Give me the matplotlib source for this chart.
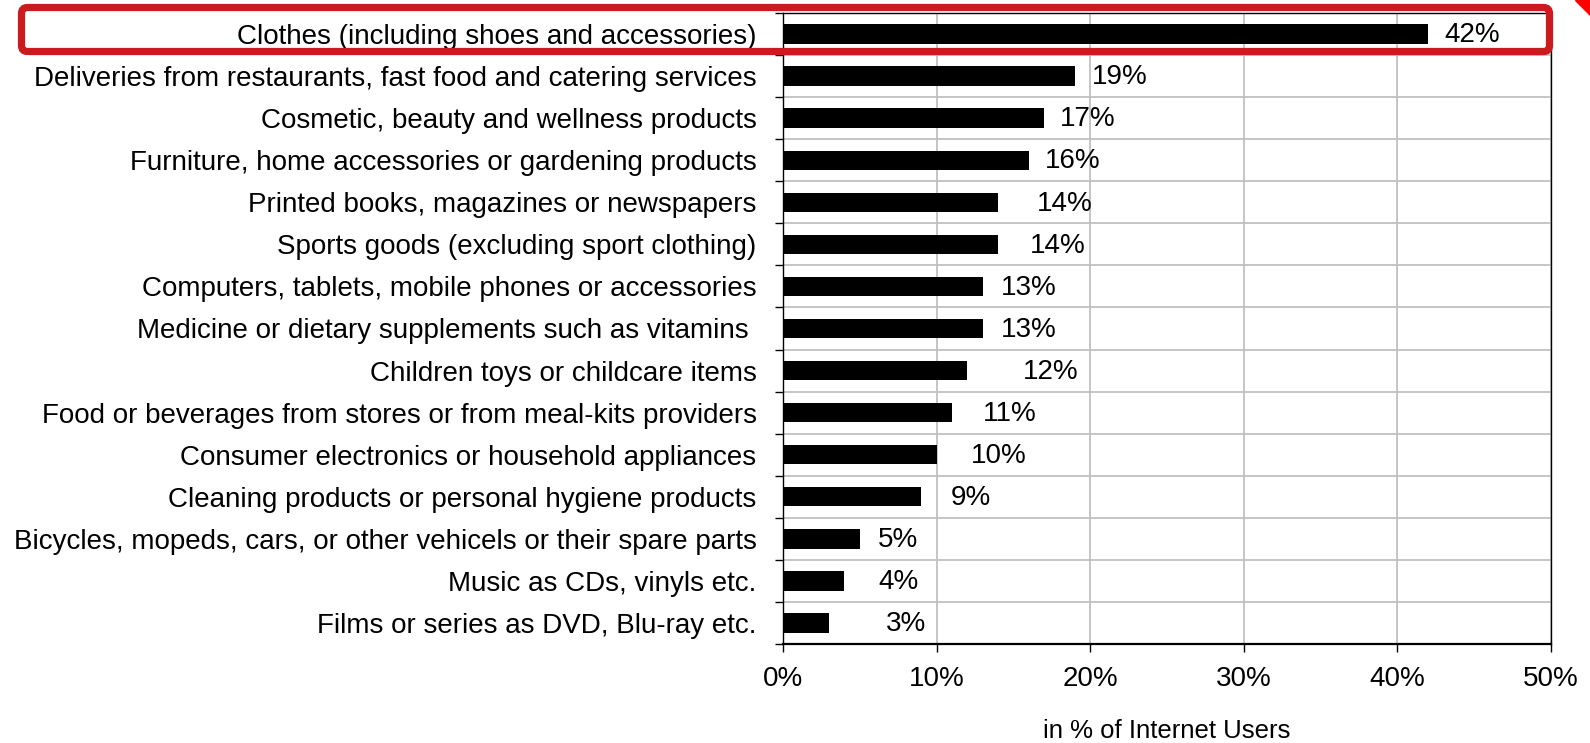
import matplotlib
matplotlib.use("Agg")
import matplotlib.pyplot as plt
from matplotlib.patches import FancyBboxPatch, Polygon
import numpy as np

plt.rcParams["font.family"] = ["Liberation Sans", "DejaVu Sans"]

# ========================
#  Datos
# ========================
categories = [
    "Clothes (including shoes and accessories)",
    "Deliveries from restaurants, fast food and catering services",
    "Cosmetic, beauty and wellness products",
    "Furniture, home accessories or gardening products",
    "Printed books, magazines or newspapers",
    "Sports goods (excluding sport clothing)",
    "Computers, tablets, mobile phones or accessories",
    "Medicine or dietary supplements such as vitamins ",
    "Children toys or childcare items",
    "Food or beverages from stores or from meal-kits providers",
    "Consumer electronics or household appliances",
    "Cleaning products or personal hygiene products",
    "Bicycles, mopeds, cars, or other vehicels or their spare parts",
    "Music as CDs, vinyls etc.",
    "Films or series as DVD, Blu-ray etc.",
]
values = [42, 19, 17, 16, 14, 14, 13, 13, 12, 11, 10, 9, 5, 4, 3]
# the data labels sit at uneven distances from the bars in the original
label_gap = [1.05, 1.1, 1.05, 1.05, 2.5, 2.1, 1.2, 1.2, 3.6, 2.0, 2.2, 1.9, 1.2, 2.2, 3.7]
x_ticks = [0, 10, 20, 30, 40, 50]
x_title = "in % of Internet Users"

# ========================
#  Gráfico
# ========================
W, H = 1590, 743
fig = plt.figure(figsize=(W / 100, H / 100), dpi=100)
ax = fig.add_axes([783 / W, 1 - 644 / H, (1551 - 783) / W, (644 - 13) / H])

y = np.arange(len(categories))
ax.barh(y, values, height=0.46, color="black", zorder=3)

for yi, v, g in zip(y, values, label_gap):
    ax.text(v + g, yi + 0.03, f"{v}%", va="center", ha="left", fontsize=20, zorder=4)

ax.set_xlim(0, 50)
ax.set_ylim(len(categories) - 0.5, -0.5)

ax.set_xticks(x_ticks)
ax.set_xticklabels([f"{t}%" for t in x_ticks], fontsize=20)
ax.set_yticks(y)
ax.set_yticklabels(categories, fontsize=20)
ax.set_yticks(np.arange(-0.5, len(categories), 1.0), minor=True)

ax.tick_params(axis="y", which="major", length=0, pad=19)
ax.tick_params(axis="y", which="minor", length=6, width=1.0, color="black")
ax.tick_params(axis="x", which="major", length=6, width=1.0, color="black", pad=10)

ax.grid(True, axis="x", which="major", color="#c0c0c0", linewidth=1.3, zorder=0)
ax.grid(True, axis="y", which="minor", color="#c0c0c0", linewidth=1.3, zorder=0)

for side in ["left", "right", "top"]:
    ax.spines[side].set_linewidth(1.0)
ax.spines["bottom"].set_linewidth(1.6)

ax.set_xlabel(x_title, fontsize=18.5, labelpad=19)

# recuadro rojo alrededor de la primera categoría (coordenadas en pulgadas)
box = FancyBboxPatch((21.5 / 100, (H - 51.5) / 100), (1549.5 - 21.5) / 100, 44 / 100,
                     boxstyle="round,pad=0,rounding_size=0.06",
                     transform=fig.dpi_scale_trans, fill=False,
                     edgecolor="#cc1b1f", linewidth=5.2, zorder=10)
fig.add_artist(box)

# punta de flecha cortada en la esquina superior derecha
tip = Polygon([(1575 / 100, H / 100), (W / 100, H / 100), (W / 100, (H - 15) / 100)],
              closed=True, transform=fig.dpi_scale_trans, color="#ff0000", zorder=10)
fig.add_artist(tip)

fig.savefig("out.png", dpi=100)
